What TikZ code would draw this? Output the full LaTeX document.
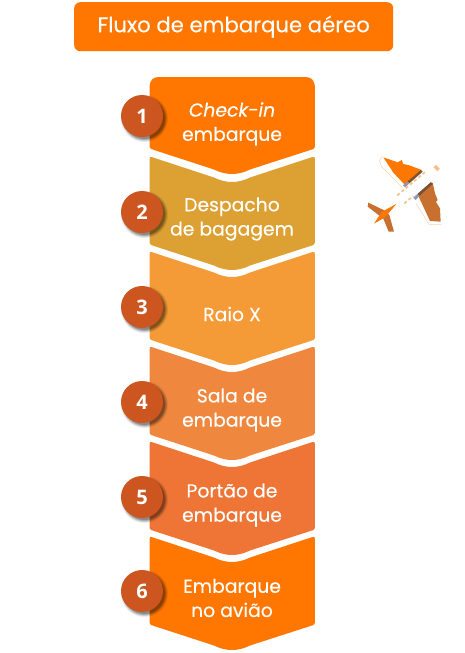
\documentclass[tikz,border=0pt]{standalone}
\usepackage{fontspec}
\setmainfont{Poppins}[FakeBold=0.2]
\newfontfamily\numfont{Open Sans}
\definecolor{oA}{HTML}{FF7700}
\definecolor{oB}{HTML}{DDA032}
\definecolor{oC}{HTML}{F49A37}
\definecolor{oD}{HTML}{F0873F}
\definecolor{oE}{HTML}{EE7535}
\definecolor{circ}{HTML}{CC5520}
\definecolor{wingb}{HTML}{C87030}
\definecolor{strip}{HTML}{7A5230}
\definecolor{blueg}{HTML}{8A9AB5}
\definecolor{dashc}{HTML}{FBC08A}
\tikzset{
  x=1pt,y=-1pt,
  steptext/.style={text=white,font=\fontsize{18.8}{24.2}\selectfont,align=center,anchor=center,inner sep=0pt},
  numtext/.style={text=white,font=\numfont\bfseries\fontsize{20}{20}\selectfont,anchor=center,inner sep=0pt},
  numdisc/.style={fill=circ},
  halo/.style={draw=dashc!70,line width=.5pt},
  windows/.style={draw=dashc,line width=1.8pt,dash pattern=on 3pt off 2.5pt},
}
\newcommand{\chevron}[2]{% colour, top y
  \fill[#1] (151.5,#2) -- (214,{#2+20.5}) .. controls (226,{#2+26.5}) and (238,{#2+26.5}) .. (250,{#2+20.5})
    -- (312.5,#2) .. controls (314,{#2-.5}) and (314.8,#2) .. (314.8,{#2+1.5})
    -- (314.8,{#2+86}) .. controls (314.8,{#2+87}) and (314.5,{#2+87.5}) .. (313.5,{#2+88})
    -- (250,{#2+108.5}) .. controls (238,{#2+114.5}) and (226,{#2+114.5}) .. (214,{#2+108.5})
    -- (151,{#2+88}) .. controls (150,{#2+87.5}) and (149.7,{#2+87}) .. (149.7,{#2+86})
    -- (149.7,{#2+1.5}) .. controls (149.7,#2) and (150.5,{#2-.5}) .. (151.5,#2) -- cycle;
}
\newcommand{\disc}[3]{% name, y, digit
  \foreach \r/\o in {23.5/.08,22.5/.12,21.5/.16,20.5/.2}{\fill[black,opacity=\o] (144.5,{#2+2.5}) circle (\r);}
  \node[numdisc,circle,minimum size=42pt,inner sep=0pt] (#1) at (142,#2) {};
  \node[numtext] (#1t) at (142,#2) {#3};
}
\begin{document}
\begin{tikzpicture}
\useasboundingbox (0,0) rectangle (465,653);
% title
\node[fill=oA,rounded corners=6pt,minimum width=319pt,minimum height=49pt,inner sep=0pt,anchor=north west,
  text=white,font=\fontsize{21.2}{21.2}\selectfont] (title) at (74,2) {Fluxo de embarque aéreo};
% steps, bottom to top
\chevron{oA}{537}
\chevron{oE}{442}
\chevron{oD}{347}
\chevron{oC}{252}
\chevron{oB}{157}
\fill[oA] (158,77) -- (306,77) .. controls (311,77) and (314.8,81) .. (314.8,86)
  -- (314.8,147) .. controls (314.8,148) and (314.5,148.5) .. (313.5,149)
  -- (250,169.5) .. controls (238,175.5) and (226,175.5) .. (214,169.5)
  -- (151,149) .. controls (150,148.5) and (149.7,148) .. (149.7,147)
  -- (149.7,86) .. controls (149.7,81) and (153,77) .. (158,77) -- cycle;
% texts
\node[steptext] (s1) at (232,124) {\itshape Check-in\\embarque};
\node[steptext] (s2) at (232,219) {Despacho\\de bagagem};
\node[steptext] (s3) at (232,314) {Raio X};
\node[steptext] (s4) at (232,410) {Sala de\\embarque};
\node[steptext] (s5) at (232,505) {Portão de\\embarque};
\node[steptext] (s6) at (232,598) {Embarque\\no avião};
% discs
\disc{n1}{116}{1}
\disc{n2}{212}{2}
\disc{n3}{307}{3}
\disc{n4}{402}{4}
\disc{n5}{497}{5}
\disc{n6}{591}{6}
% plane (coordinates in pixels of the picture)
\begin{scope}[shift={(350,140)},x=.3333pt,y=-.3333pt]
  % halo
  \draw[halo] (97,48) -- (88,62) -- (95,80) -- (155,140);
  \draw[halo] (198,190) -- (238,254) -- (275,254);
  % upper wing
  \fill[oA] (100,52) -- (143,67) -- (155,60) -- (160,72) -- (178,76) -- (215,90) -- (165,135) -- (130,98) -- cycle;
  \fill[strip] (213,90) -- (218,95) -- (178,130) -- (172,125) -- cycle;
  \fill[blueg] (172,125) -- (178,130) -- (166,142) -- (159,136) -- cycle;
  % lower wing
  \fill[wingb] (248,128) -- (255,160) -- (263,180) -- (258,186) -- (270,205) -- (272,245) -- (240,243) -- (207,172) -- (205,165) -- cycle;
  \fill[strip] (243,126) -- (248,132) -- (208,168) -- (202,162) -- cycle;
  \fill[blueg] (202,162) -- (208,168) -- (197,180) -- (190,173) -- cycle;
  % tail
  \fill[wingb] (55,188) -- (105,212) -- (118,225) -- (132,275) -- (116,275) -- (100,236) -- (53,200) -- cycle;
  \fill[oA] (140,191) -- (105,232) -- (72,251) -- (95,216) -- cycle;
  % windows
  \draw[windows] (142,166) -- (230,92);
  \draw[windows] (163,190) -- (190,168);
  \draw[dashc,line width=3.5pt] (254,78) -- (266,90);
\end{scope}
\end{tikzpicture}
\end{document}
